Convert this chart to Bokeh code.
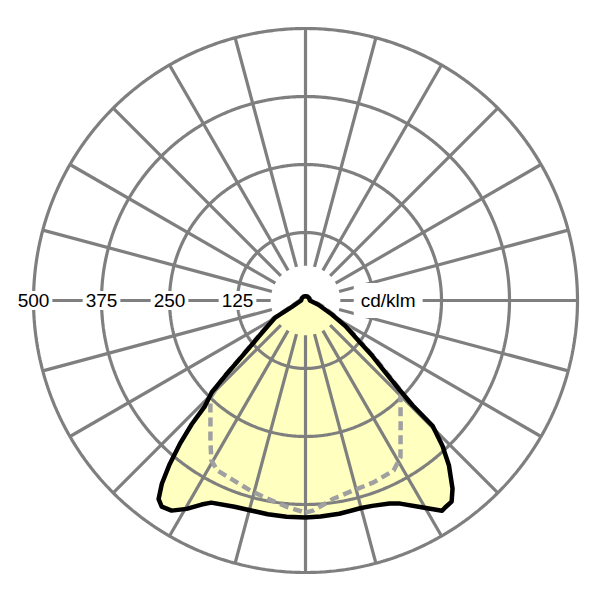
import numpy as np
from bokeh.plotting import figure
from bokeh.models import Range1d
from bokeh.embed import file_html
from bokeh.resources import INLINE
from bokeh.core.properties import value

# ---------------- data (cd/klm, angle in degrees from nadir) ----------------
ring_values = [125, 250, 375, 500]
ring_labels = ["125", "250", "375", "500"]
unit_label = "cd/klm"
spoke_angles = list(range(0, 360, 15))

# solid curve, right half (C0)
c0_angles = [0, 4, 9, 15, 18, 22.5, 25, 29, 33, 34, 36, 38, 41, 43.3, 45.4, 45.6,
             46.5, 48, 50.3, 52.8, 57.4, 62, 71.6, 90, 120, 150, 180]
c0_values = [399, 398, 397, 395, 397, 404, 412, 434, 461, 459, 457, 439, 402, 367, 328, 276,
             237, 198, 160, 123, 87, 55, 25, 8, 8, 8, 8]

# solid curve, left half (C180)
c180_angles = [0, 5, 10, 19, 25, 27, 29.7, 32.5, 34.9, 36.5, 38.1, 39.7, 41.2, 42.6, 43.6,
               45.6, 46.8, 48.7, 52.4, 60.6, 65, 90, 120, 150, 180]
c180_values = [399, 399, 399, 401, 410, 421, 441, 458, 462, 454, 428, 391, 351, 309, 268,
               241, 203, 155, 108, 64, 27, 8, 8, 8, 8]

# dashed curve, right half (C90)
c90_angles = [0, 2.2, 8, 14.2, 20.5, 27.4, 31.2, 37.7, 44.5, 46.5, 48.1, 50.3, 52.8,
              57.4, 62, 71.6, 90, 120, 150, 180]
c90_values = [390, 386, 368, 360, 357, 352, 337, 286, 249, 243, 204, 166, 129,
              93, 61, 30, 10, 8, 8, 8]

# dashed curve, left half (C270)
c270_angles = [0, 5.1, 10.9, 16.1, 21.8, 27.4, 30.5, 34.2, 39.1, 44.4, 46.8, 48.7, 52.4,
               60.6, 65, 90, 120, 150, 180]
c270_values = [390, 381, 371, 364, 356, 352, 341, 311, 277, 250, 207, 159, 112,
               68, 31, 10, 8, 8, 8]

# ---------------- style ----------------
GRID = "#7f7f7f"
FILL = "#ffffc0"
DASH = "#a0a0a0"
FONT = value("Liberation Sans")
SPOKE_START = 64
UNIT_X = 152


def half(angles, values, sign):
    a = np.radians(np.asarray(angles, dtype=float))
    v = np.asarray(values, dtype=float)
    return sign * v * np.sin(a), -v * np.cos(a)


def closed_curve(ra, rv, la, lv):
    xr, yr = half(ra, rv, 1)
    xl, yl = half(la, lv, -1)
    xs = np.concatenate([xr, xl[::-1]])
    ys = np.concatenate([yr, yl[::-1]])
    return list(xs), list(ys)


p = figure(width=600, height=600, output_backend="svg", toolbar_location=None,
           x_range=Range1d(-560.7, 542.3), y_range=Range1d(-551.5, 551.5),
           x_axis_type=None, y_axis_type=None, min_border=0)
p.outline_line_color = None
p.background_fill_color = "white"

# filled solid curve
sx, sy = closed_curve(c0_angles, c0_values, c180_angles, c180_values)
p.patch(sx, sy, fill_color=FILL, line_color=None)

# grid rings
t = np.linspace(0, 2 * np.pi, 721)
rx = [list(r * np.cos(t)) for r in ring_values]
ry = [list(r * np.sin(t)) for r in ring_values]
p.multi_line(rx, ry, line_color=GRID, line_width=3.2)

# spokes
outer = max(ring_values)
kx, ky = [], []
for a in spoke_angles:
    ar = np.radians(a)
    kx.append([SPOKE_START * np.sin(ar), outer * np.sin(ar)])
    ky.append([-SPOKE_START * np.cos(ar), -outer * np.cos(ar)])
p.multi_line(kx, ky, line_color=GRID, line_width=3.2)

# dashed curve
dx, dy = closed_curve(c90_angles, c90_values, c270_angles, c270_values)
p.line(dx, dy, line_color=DASH, line_width=4.5, line_dash="9 5", line_join="round")

# solid outline
p.line(sx, sy, line_color="black", line_width=4.5, line_join="round")

# labels
p.text(x=[-v for v in ring_values], y=[0] * len(ring_values), text=ring_labels,
       text_font=FONT, text_font_size="19px", text_align="center",
       text_baseline="middle", text_color="black",
       background_fill_color="white", padding=3)
p.text(x=[UNIT_X], y=[0], text=[unit_label],
       text_font=FONT, text_font_size="19px", text_align="center",
       text_baseline="middle", text_color="black",
       background_fill_color="white", padding=7)

open("out.html", "w").write(file_html(p, INLINE))
